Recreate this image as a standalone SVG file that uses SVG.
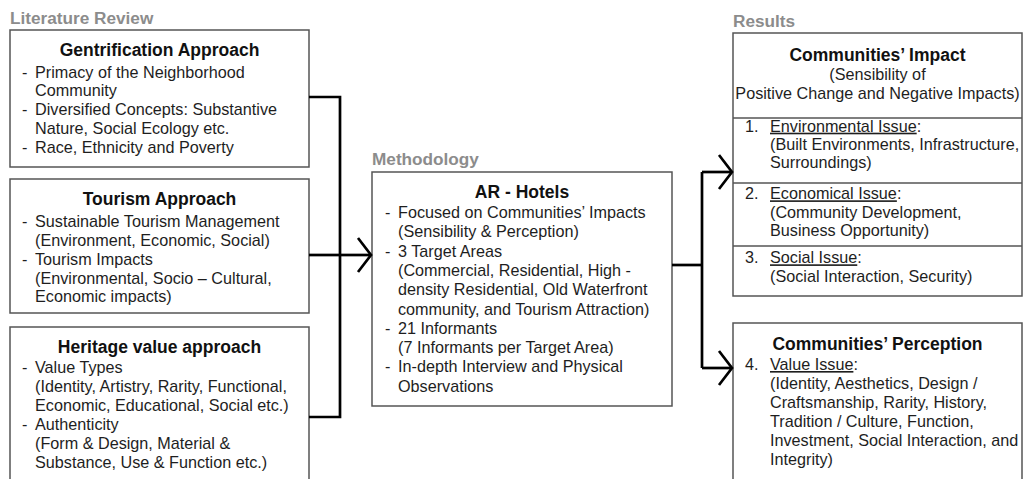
<svg xmlns="http://www.w3.org/2000/svg" width="1025" height="479" viewBox="0 0 1025 479">
  <style>
    text { font-family: "Liberation Sans", Arial, sans-serif; fill: #1e1e1e; }
    .lbl { font-size: 17.2px; font-weight: bold; fill: #8c8c8c; }
    .ttl { font-size: 17.5px; font-weight: bold; text-anchor: middle; fill: #111; }
    .b { font-size: 16.2px; }
    .c { font-size: 16.2px; text-anchor: middle; }
    .box { fill: #fff; stroke: #555; stroke-width: 1.5; }
    .sep { stroke: #555; stroke-width: 1.5; }
    .con { fill: none; stroke: #000; stroke-width: 2.7; stroke-linejoin: miter; }
    .u { text-decoration: underline; }
  </style>
  <defs>
    <marker id="chev" markerUnits="userSpaceOnUse" viewBox="-16 -20 20 40" markerWidth="20" markerHeight="40" refX="0" refY="0" orient="auto">
      <path d="M-13,-17 L0,0 L-13,17" fill="none" stroke="#000" stroke-width="2.7"/>
    </marker>
  </defs>
  <rect width="1025" height="479" fill="#fff"/>

  <text class="lbl" x="10" y="24">Literature Review</text>
  <text class="lbl" x="372" y="165">Methodology</text>
  <text class="lbl" x="733" y="27">Results</text>

  <g id="gentrification">
    <rect class="box" x="10" y="30" width="299" height="137"/>
    <text class="ttl" x="159.5" y="56">Gentrification Approach</text>
    <text class="b" x="22" y="77.5">-</text>
    <text class="b" x="35" y="77.5">Primacy of the Neighborhood</text>
    <text class="b" x="35" y="96">Community</text>
    <text class="b" x="22" y="115">-</text>
    <text class="b" x="35" y="115">Diversified Concepts: Substantive</text>
    <text class="b" x="35" y="133.5">Nature, Social Ecology etc.</text>
    <text class="b" x="22" y="152.5">-</text>
    <text class="b" x="35" y="152.5">Race, Ethnicity and Poverty</text>
  </g>

  <g id="tourism">
    <rect class="box" x="10" y="179" width="299" height="134"/>
    <text class="ttl" x="159.5" y="205">Tourism Approach</text>
    <text class="b" x="22" y="227">-</text>
    <text class="b" x="35" y="227">Sustainable Tourism Management</text>
    <text class="b" x="35" y="246">(Environment, Economic, Social)</text>
    <text class="b" x="22" y="265">-</text>
    <text class="b" x="35" y="265">Tourism Impacts</text>
    <text class="b" x="35" y="283.5">(Environmental, Socio – Cultural,</text>
    <text class="b" x="35" y="302">Economic impacts)</text>
  </g>

  <g id="heritage">
    <rect class="box" x="10" y="327" width="299" height="200"/>
    <text class="ttl" x="159.5" y="353">Heritage value approach</text>
    <text class="b" x="22" y="373">-</text>
    <text class="b" x="35" y="373">Value Types</text>
    <text class="b" x="35" y="392">(Identity, Artistry, Rarity, Functional,</text>
    <text class="b" x="35" y="411">Economic, Educational, Social etc.)</text>
    <text class="b" x="22" y="430">-</text>
    <text class="b" x="35" y="430">Authenticity</text>
    <text class="b" x="35" y="449">(Form &amp; Design, Material &amp;</text>
    <text class="b" x="35" y="468">Substance, Use &amp; Function etc.)</text>
  </g>

  <g id="methodology">
    <rect class="box" x="372" y="172" width="300" height="234"/>
    <text class="ttl" x="522" y="198">AR - Hotels</text>
    <text class="b" x="385" y="218">-</text>
    <text class="b" x="398" y="218">Focused on Communities’ Impacts</text>
    <text class="b" x="398" y="237.3">(Sensibility &amp; Perception)</text>
    <text class="b" x="385" y="256.6">-</text>
    <text class="b" x="398" y="256.6">3 Target Areas</text>
    <text class="b" x="398" y="275.9">(Commercial, Residential, High -</text>
    <text class="b" x="398" y="295.2">density Residential, Old Waterfront</text>
    <text class="b" x="398" y="314.5">community, and Tourism Attraction)</text>
    <text class="b" x="385" y="333.8">-</text>
    <text class="b" x="398" y="333.8">21 Informants</text>
    <text class="b" x="398" y="353.1">(7 Informants per Target Area)</text>
    <text class="b" x="385" y="372.4">-</text>
    <text class="b" x="398" y="372.4">In-depth Interview and Physical</text>
    <text class="b" x="398" y="391.7">Observations</text>
  </g>

  <g id="impact">
    <rect class="box" x="733" y="33" width="289" height="263"/>
    <line class="sep" x1="733" y1="118" x2="1022" y2="118"/>
    <line class="sep" x1="733" y1="183" x2="1022" y2="183"/>
    <line class="sep" x1="733" y1="246" x2="1022" y2="246"/>
    <text class="ttl" x="877.5" y="61">Communities’ Impact</text>
    <text class="c" x="877.5" y="79.5">(Sensibility of</text>
    <text class="c" x="877.5" y="99">Positive Change and Negative Impacts)</text>
    <text class="b" x="745" y="131.7">1.</text>
    <text class="b" x="770" y="131.7"><tspan class="u">Environmental Issue</tspan>:</text>
    <text class="b" x="770" y="150">(Built Environments, Infrastructure,</text>
    <text class="b" x="770" y="168.3">Surroundings)</text>
    <text class="b" x="745" y="199.3">2.</text>
    <text class="b" x="770" y="199.3"><tspan class="u">Economical Issue</tspan>:</text>
    <text class="b" x="770" y="218.3">(Community Development,</text>
    <text class="b" x="770" y="236">Business Opportunity)</text>
    <text class="b" x="745" y="263.3">3.</text>
    <text class="b" x="770" y="263.3"><tspan class="u">Social Issue</tspan>:</text>
    <text class="b" x="770" y="281.7">(Social Interaction, Security)</text>
  </g>

  <g id="perception">
    <rect class="box" x="733" y="323" width="289" height="200"/>
    <text class="ttl" x="877.5" y="350">Communities’ Perception</text>
    <text class="b" x="745" y="370">4.</text>
    <text class="b" x="770" y="370"><tspan class="u">Value Issue</tspan>:</text>
    <text class="b" x="770" y="389">(Identity, Aesthetics, Design /</text>
    <text class="b" x="770" y="408">Craftsmanship, Rarity, History,</text>
    <text class="b" x="770" y="427">Tradition / Culture, Function,</text>
    <text class="b" x="770" y="446">Investment, Social Interaction, and</text>
    <text class="b" x="770" y="465">Integrity)</text>
  </g>

  <g id="connectors">
    <path class="con" d="M309,97 H340 V417 H309"/>
    <path class="con" d="M309,255 H340"/>
    <path class="con" d="M340,255 H371" marker-end="url(#chev)"/>
    <path class="con" d="M672,265 H702"/>
    <path class="con" d="M702,172 V368"/>
    <path class="con" d="M702,172 H732" marker-end="url(#chev)"/>
    <path class="con" d="M702,368 H732" marker-end="url(#chev)"/>
  </g>
</svg>
